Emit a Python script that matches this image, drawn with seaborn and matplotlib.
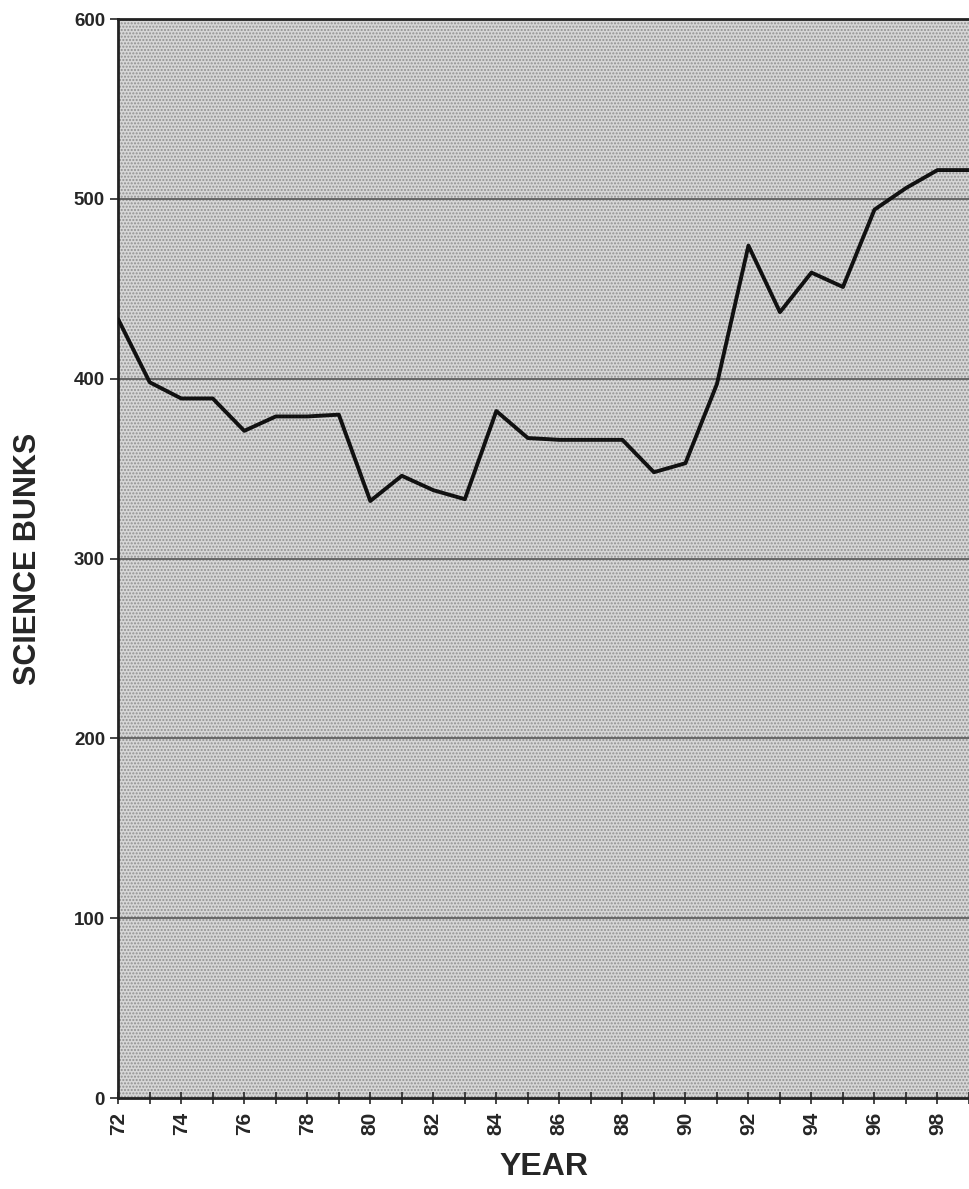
import numpy as np
import pandas as pd
import matplotlib
matplotlib.use("Agg")
import matplotlib.pyplot as plt
import seaborn as sns
from matplotlib.patches import Rectangle
from matplotlib.ticker import MultipleLocator

# Data
years = list(range(72, 100))
bunks = [433, 398, 389, 389, 371, 379, 379, 380, 332, 346, 338, 333,
         382, 367, 366, 366, 366, 348, 353, 397, 474, 437, 459, 451,
         494, 506, 516, 516]
y_ticks = [0, 100, 200, 300, 400, 500, 600]
x_tick_labels = [str(y) for y in range(72, 100, 2)]

sns.set_style("ticks")
plt.rcParams['font.family'] = ['Liberation Sans', 'DejaVu Sans']
plt.rcParams['hatch.linewidth'] = 1.0

df = pd.DataFrame({"year": years, "bunks": bunks})

fig = plt.figure(figsize=(9.69, 11.89), dpi=100)
ax = fig.add_axes([0.122, 0.0765, 0.878, 0.9075])

# stippled gray background
ax.set_facecolor('#d6d6d6')
ax.add_patch(Rectangle((0, 0), 1, 1, transform=ax.transAxes, facecolor='none',
                       edgecolor='#909090', hatch='.....', lw=0, zorder=0))

for v in y_ticks[1:-1]:
    ax.axhline(v, color='#555555', lw=1.2, zorder=1)

sns.lineplot(data=df, x="year", y="bunks", color='#111111', lw=2.8, ax=ax, zorder=3)

ax.set_xlim(72, 99)
ax.set_ylim(0, 600)
ax.set_yticks(y_ticks)
ax.set_xticks(list(range(72, 100, 2)))
ax.set_xticklabels(x_tick_labels, rotation=90, fontweight='bold', fontsize=15)
ax.xaxis.set_minor_locator(MultipleLocator(1))
ax.tick_params(axis='x', which='both', direction='inout', length=8, width=1.2, pad=6)
ax.tick_params(axis='y', direction='out', length=6, width=1.2, labelsize=13.5)
for lab in ax.get_yticklabels():
    lab.set_fontweight('bold')

ax.set_xlabel("YEAR", fontsize=23, fontweight='bold', labelpad=12)
ax.set_ylabel("SCIENCE BUNKS", fontsize=22, fontweight='bold', labelpad=22)

for side in ['left', 'top', 'bottom']:
    ax.spines[side].set_linewidth(2.0)
    ax.spines[side].set_color('#222222')
ax.spines['right'].set_visible(False)

fig.savefig("out.png", dpi=100)
